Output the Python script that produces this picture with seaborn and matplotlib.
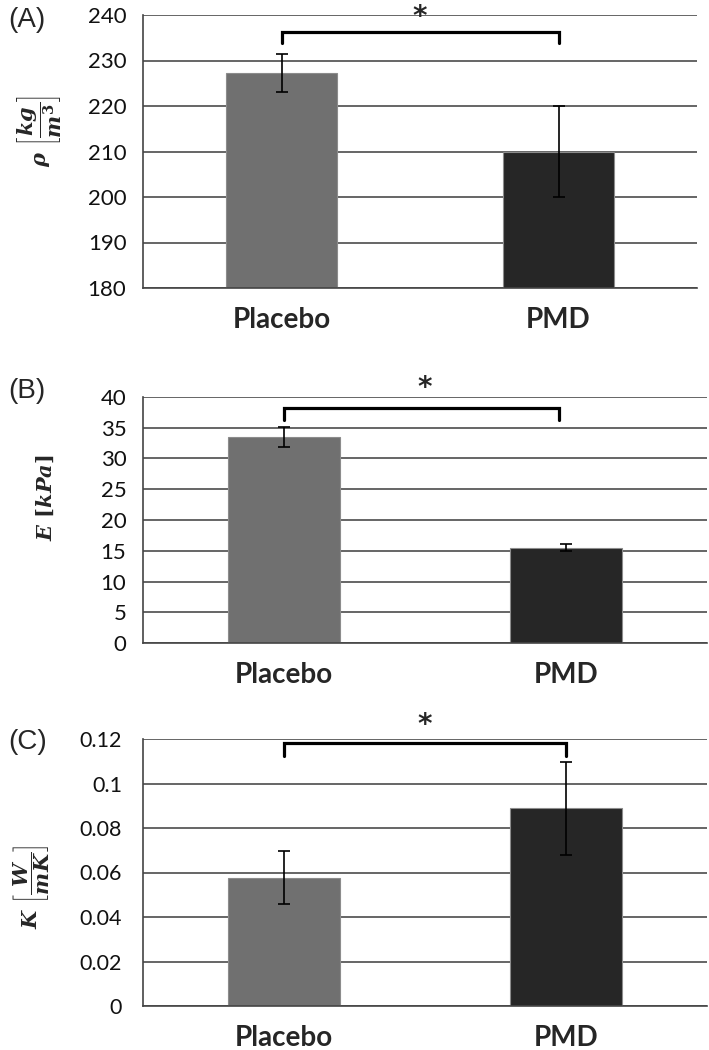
import matplotlib
matplotlib.use("Agg")
import matplotlib.pyplot as plt
import seaborn as sns

# data
categories = ["Placebo", "PMD"]
bar_colors = ["#707070", "#262626"]

density_mean = [227.3, 210.0]
density_err = [4.2, 10.0]

modulus_mean = [33.5, 15.5]
modulus_err = [1.7, 0.6]

conduct_mean = [0.0577, 0.0888]
conduct_err = [0.0118, 0.0210]

density_ticks = [180, 190, 200, 210, 220, 230, 240]
modulus_ticks = [0, 5, 10, 15, 20, 25, 30, 35, 40]
conduct_ticks = [0, 0.02, 0.04, 0.06, 0.08, 0.1, 0.12]
conduct_ticklabels = ["0", "0.02", "0.04", "0.06", "0.08", "0.1", "0.12"]

sns.set_style("white")
plt.rcParams["font.family"] = ["Lato", "DejaVu Sans"]
plt.rcParams["mathtext.fontset"] = "custom"
plt.rcParams["mathtext.it"] = "DejaVu Serif:italic:bold"
plt.rcParams["mathtext.rm"] = "DejaVu Serif:bold"
plt.rcParams["mathtext.bf"] = "DejaVu Serif:bold"

W, H = 709, 1050
fig = plt.figure(figsize=(W / 100, H / 100), dpi=100)


def px_axes(left, right, top, bottom):
    return [left / W, 1 - bottom / H, (right - left) / W, (bottom - top) / H]


def panel(rect, means, errs, ticks, ticklabels, tick_size, show_ticks,
          bracket, star_y, bracket_right=1.0):
    ax = fig.add_axes(rect)
    sns.barplot(x=categories, y=means, hue=categories, palette=bar_colors,
                width=0.4, legend=False, edgecolor="#8c8c8c", linewidth=0.8,
                ax=ax, zorder=2)
    ax.errorbar(x=[0, 1], y=means, yerr=errs, fmt="none", ecolor="black",
                elinewidth=1.2, capsize=4, capthick=1.2, zorder=3)
    ax.set_xlim(-0.5, 1.5)
    ax.set_ylim(ticks[0], ticks[-1])
    ax.set_yticks(ticks)
    ax.set_yticklabels(ticklabels, fontsize=tick_size, color="#111111")
    ax.set_xticks([0, 1])
    ax.set_xticklabels(categories, fontsize=20, fontweight="bold")
    ax.yaxis.grid(True, color="#3c3c3c", linewidth=1.1)
    ax.set_axisbelow(True)
    for s in ["top", "right"]:
        ax.spines[s].set_visible(False)
    for s in ["left", "bottom"]:
        ax.spines[s].set_color("#444444")
        ax.spines[s].set_linewidth(1.2)
    if show_ticks:
        ax.tick_params(axis="y", length=6, width=1.1, color="#444444", pad=6)
        ax.set_xticks([-0.5, 0.5, 1.5], minor=True)
        ax.tick_params(axis="x", which="minor", length=6, width=1.1,
                       color="#444444", direction="out")
    else:
        ax.tick_params(axis="y", length=0, pad=15)
    ax.tick_params(axis="x", which="major", length=0, pad=14)
    ax.set_xlabel("")
    ax.set_ylabel("")
    top, tip = bracket
    ax.plot([0, 0, bracket_right, bracket_right], [tip, top, top, tip],
            color="black", lw=2.3, clip_on=False, zorder=4,
            solid_joinstyle="miter")
    ax.text(0.5, star_y, "*", ha="center", va="center", fontsize=20,
            fontweight="bold", family="DejaVu Sans", clip_on=False)
    return ax


panel(px_axes(143, 697, 15, 288), density_mean, density_err,
      density_ticks, [str(t) for t in density_ticks], 16, True,
      (236.3, 233.8), 239.6)
panel(px_axes(143, 707, 397, 643), modulus_mean, modulus_err,
      modulus_ticks, [str(t) for t in modulus_ticks], 16, True,
      (38.2, 36.3), 41.4, bracket_right=0.975)
panel(px_axes(143, 707, 739, 1006), conduct_mean, conduct_err,
      conduct_ticks, conduct_ticklabels, 15.5, False,
      (0.1184, 0.1125), 0.1263)

# panel letters
for lab, y in [("(A)", 20), ("(B)", 391), ("(C)", 742)]:
    fig.text(8 / W, 1 - y / H, lab, fontsize=20, family="Liberation Sans",
             ha="left", va="center")

# y-axis labels
ylabels = [
    (r"$\rho\ \left[\dfrac{kg}{m^3}\right]$", 40, 131),
    (r"$E\ [kPa]$", 45, 498),
    (r"$K\ \left[\dfrac{W}{mK}\right]$", 32, 887),
]
for txt, x, y in ylabels:
    fig.text(x / W, 1 - y / H, txt, rotation=90, fontsize=15,
             ha="center", va="center")

fig.savefig("out.png", dpi=100)
